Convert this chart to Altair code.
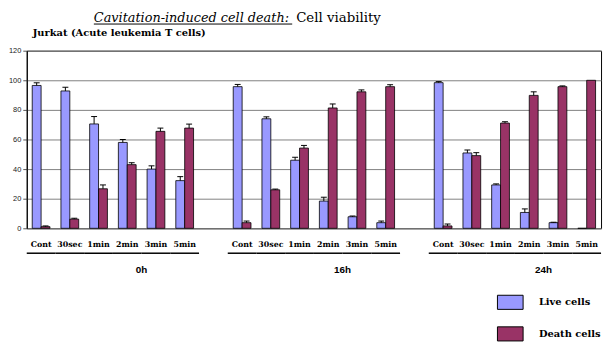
import altair as alt
import pandas as pd

groups = ["0h", "16h", "24h"]
times = ["Cont", "30sec", "1min", "2min", "3min", "5min"]
series = ["Live cells", "Death cells"]
colors = ["#9999ff", "#993366"]

live = [96.5, 92.8, 70.5, 58.0, 40.0, 32.2,
        95.7, 74.0, 46.0, 18.4, 7.8, 3.8,
        98.4, 50.9, 29.3, 10.7, 3.8, 0.0]
live_err = [1.8, 2.5, 5.0, 2.0, 2.2, 2.7,
            1.5, 1.3, 2.0, 2.6, 0.5, 1.1,
            0.7, 2.0, 0.7, 2.4, 0.3, 0.0]
death = [1.1, 6.2, 26.7, 43.0, 65.5, 67.7,
         3.8, 26.0, 54.2, 81.3, 92.2, 95.7,
         1.6, 49.1, 71.1, 89.8, 95.7, 100.0]
death_err = [0.5, 0.6, 2.6, 1.3, 2.2, 2.7,
             1.1, 0.5, 1.8, 2.7, 1.3, 1.3,
             1.3, 2.0, 0.9, 2.4, 0.5, 0.0]
y_ticks = [0, 20, 40, 60, 80, 100, 120]

title_a = "Cavitation-induced cell death:"
title_b = "Cell viability"
subtitle = "Jurkat (Acute leukemia T cells)"

SERIF = "DejaVu Serif"
SANS = "Liberation Sans"

# slots (with one empty slot between groups)
slots = []
for gi, g in enumerate(groups):
    if gi > 0:
        slots.append(f"gap{gi}")
    for t in times:
        slots.append(f"{g}|{t}")

rows = []
for gi, g in enumerate(groups):
    for ti, t in enumerate(times):
        k = gi * 6 + ti
        rows.append(dict(slot=f"{g}|{t}", series=series[0], value=live[k], err=live_err[k]))
        rows.append(dict(slot=f"{g}|{t}", series=series[1], value=death[k], err=death_err[k]))
df = pd.DataFrame(rows)
df["top"] = df["value"] + df["err"]
df_err = df[df["err"] > 0]

under = pd.DataFrame([dict(slot=f"{g}|{t}") for g in groups for t in times])
glabels = pd.DataFrame([dict(slot=f"{g}|2min", label=g) for g in groups])

xaxis = alt.Axis(labelExpr="indexof(datum.value,'|')>0 ? split(datum.value,'|')[1] : ''",
                 labelAngle=0, ticks=False, tickSize=0, domain=False, grid=False,
                 labelFont=SERIF, labelFontWeight="bold",
                 labelFontSize=8, labelColor="black", labelPadding=18,
                 labelBaseline="alphabetic", labelOverlap=False)
yaxis = alt.Axis(values=y_ticks, labelFont=SANS, labelFontSize=7.5,
                 labelColor="#222222", tickSize=4, tickColor="#555555",
                 domainColor="black", gridColor="#808080", gridWidth=1,
                 labelPadding=2, labelOverlap=False, tickCount=7)
xscale = alt.Scale(domain=slots, paddingInner=0, paddingOuter=0)
yscale = alt.Scale(domain=[0, 120], nice=False)
xoff = alt.XOffset("series:N", scale=alt.Scale(domain=series, paddingInner=0, paddingOuter=0.617))


def X(**kw):
    return alt.X("slot:N", scale=xscale, axis=xaxis, title=None, **kw)


def Y(field):
    return alt.Y(field, scale=yscale, axis=yaxis, title=None)


bars = alt.Chart(df).mark_bar(stroke="black", strokeWidth=0.8, opacity=1).encode(
    x=X(), xOffset=xoff, y=Y("value:Q"),
    color=alt.Color("series:N", scale=alt.Scale(domain=series, range=colors),
                    legend=alt.Legend(title=None, orient="none", legendX=483, legendY=248,
                                      symbolType="M-2,-1.1H2V1.1H-2Z", symbolSize=169,
                                      symbolStrokeColor="black", symbolStrokeWidth=1,
                                      symbolOpacity=1, labelFont=SERIF,
                                      labelFontWeight="bold", labelFontSize=10,
                                      labelColor="black", labelOffset=22, rowPadding=12,
                                      padding=0)))
stems = alt.Chart(df_err).mark_rule(color="black", strokeWidth=1).encode(
    x=X(), xOffset=xoff, y=Y("value:Q"), y2="top:Q")
caps = alt.Chart(df_err).mark_tick(color="black", thickness=1, size=6, opacity=1).encode(
    x=X(), xOffset=xoff, y=Y("top:Q"))

underline = alt.Chart(under).mark_rect(color="black").encode(
    x=X(), y=alt.value(204.5), y2=alt.value(206))
group_text = alt.Chart(glabels).mark_text(font=SANS, fontWeight="bold", fontSize=10,
                                          color="black", baseline="alphabetic").encode(
    x=X(bandPosition=1), y=alt.value(225), text="label:N")

t1 = alt.Chart(pd.DataFrame({"t": [title_a]})).mark_text(
    font=SERIF, fontStyle="italic", fontSize=13, color="black",
    align="left", baseline="alphabetic").encode(x=alt.value(68), y=alt.value(-29), text="t:N")
t1u = alt.Chart(pd.DataFrame({"t": [title_a]})).mark_rule(color="black", strokeWidth=1).encode(
    x=alt.value(68), x2=alt.value(269), y=alt.value(-27))
t2 = alt.Chart(pd.DataFrame({"t": [title_b]})).mark_text(
    font=SERIF, fontSize=13.5, color="black",
    align="left", baseline="alphabetic").encode(x=alt.value(273), y=alt.value(-29), text="t:N")
t3 = alt.Chart(pd.DataFrame({"t": [subtitle]})).mark_text(
    font=SERIF, fontWeight="bold", fontSize=10, color="black",
    align="left", baseline="alphabetic").encode(x=alt.value(6), y=alt.value(-15), text="t:N")

chart = alt.layer(bars, stems, caps, underline, group_text, t1, t1u, t2, t3).properties(
    width=582, height=180,
    autosize=alt.AutoSizeParams(type="none"),
    padding={"left": 19, "top": 41, "right": 4, "bottom": 115},
    background="white",
).configure_view(stroke="black", strokeWidth=1)

chart.save("out.html", embed_options={"renderer": "svg", "actions": False})
